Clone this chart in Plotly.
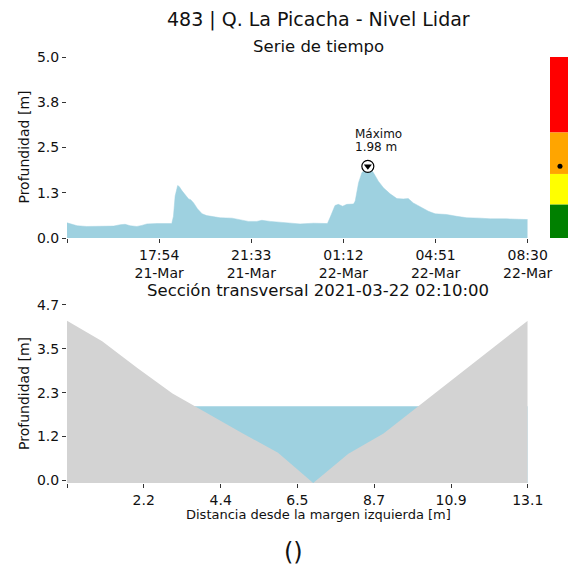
import plotly.graph_objects as go

# ---------------- data ----------------
times = [
    "2021-03-21 14:15", "2021-03-21 14:26", "2021-03-21 14:39", "2021-03-21 15:02",
    "2021-03-21 15:34", "2021-03-21 16:06", "2021-03-21 16:22", "2021-03-21 16:33",
    "2021-03-21 16:45", "2021-03-21 17:01", "2021-03-21 17:13", "2021-03-21 17:25",
    "2021-03-21 17:49", "2021-03-21 18:24", "2021-03-21 18:28", "2021-03-21 18:32",
    "2021-03-21 18:38", "2021-03-21 18:42", "2021-03-21 18:48", "2021-03-21 18:56",
    "2021-03-21 19:04", "2021-03-21 19:09", "2021-03-21 19:16", "2021-03-21 19:25",
    "2021-03-21 19:36", "2021-03-21 19:47", "2021-03-21 20:03", "2021-03-21 20:19",
    "2021-03-21 20:47", "2021-03-21 21:07", "2021-03-21 21:26", "2021-03-21 21:46",
    "2021-03-21 21:58", "2021-03-21 22:18", "2021-03-21 22:57", "2021-03-21 23:29",
    "2021-03-22 00:01", "2021-03-22 00:34", "2021-03-22 00:40", "2021-03-22 00:52",
    "2021-03-22 01:00", "2021-03-22 01:10", "2021-03-22 01:20", "2021-03-22 01:36",
    "2021-03-22 01:40", "2021-03-22 01:48", "2021-03-22 01:56", "2021-03-22 02:03",
    "2021-03-22 02:10", "2021-03-22 02:23", "2021-03-22 02:35", "2021-03-22 02:47",
    "2021-03-22 03:03", "2021-03-22 03:19", "2021-03-22 03:34", "2021-03-22 03:46",
    "2021-03-22 03:58", "2021-03-22 04:14", "2021-03-22 04:34", "2021-03-22 04:50",
    "2021-03-22 05:17", "2021-03-22 05:41", "2021-03-22 06:05", "2021-03-22 06:37",
    "2021-03-22 07:01", "2021-03-22 07:40", "2021-03-22 08:12", "2021-03-22 08:30",
]
depth = [
    0.42, 0.39, 0.34, 0.32,
    0.32, 0.33, 0.37, 0.38,
    0.34, 0.32, 0.35, 0.39,
    0.40, 0.40, 0.60, 1.16,
    1.45, 1.42, 1.31, 1.20,
    1.08, 1.06, 0.97, 0.81,
    0.67, 0.62, 0.58, 0.56,
    0.55, 0.51, 0.46, 0.46,
    0.49, 0.46, 0.42, 0.39,
    0.41, 0.40, 0.56, 0.90,
    0.93, 0.88, 0.93, 0.94,
    1.02, 1.53, 1.81, 1.87,
    1.98, 1.81, 1.57, 1.39,
    1.22, 1.09, 1.08, 1.09,
    0.97, 0.86, 0.74, 0.67,
    0.65, 0.60, 0.56, 0.55,
    0.53, 0.53, 0.52, 0.51,
]
max_time = "2021-03-22 02:10"
max_depth = 1.98
max_label = ["Máximo", "1.98 m"]

alert_bounds = [0.0, 0.93, 1.77, 2.92, 5.0]
alert_colors = ["#008000", "#FFFF00", "#FFA500", "#FF0000"]
current_level = 1.98

time_range = ["2021-03-21 14:15", "2021-03-22 08:30"]
time_tickvals = ["2021-03-21 14:15", "2021-03-21 17:54", "2021-03-21 21:33",
                 "2021-03-22 01:12", "2021-03-22 04:51", "2021-03-22 08:30"]
time_ticktext = ["", "17:54<br>21-Mar", "21:33<br>21-Mar", "01:12<br>22-Mar",
                 "04:51<br>22-Mar", "08:30<br>22-Mar"]
depth_tickvals = [0.0, 1.25, 2.5, 3.75, 5.0]
depth_ticktext = ["0.0", "1.3", "2.5", "3.8", "5.0"]

section_x = [0.0, 1.0, 2.0, 3.0, 5.0, 6.0, 7.0, 8.0, 9.0, 13.1]
section_bed = [4.26, 3.71, 3.00, 2.32, 1.25, 0.74, -0.07, 0.71, 1.25, 4.26]
section_water = 1.98
section_xtickvals = [0.0, 2.18, 4.37, 6.55, 8.73, 10.92, 13.1]
section_xticktext = ["", "2.2", "4.4", "6.5", "8.7", "10.9", "13.1"]
section_ytickvals = [0.0, 1.17, 2.34, 3.51, 4.68]
section_yticktext = ["0.0", "1.2", "2.3", "3.5", "4.7"]

title_text = "483 | Q. La Picacha - Nivel Lidar"
sub1_text = "Serie de tiempo"
sub2_text = "Sección transversal 2021-03-22 02:10:00"
xlabel2 = "Distancia desde la margen izquierda [m]"
ylabel = "Profundidad [m]"
footer = "()"

# ---------------- style ----------------
FONT = "DejaVu Sans"
WATER = "#9ED1E0"
GROUND = "#D3D3D3"
TXT = "#111111"

fig = go.Figure()

# time series
fig.add_trace(go.Scatter(x=times, y=depth, mode="lines", fill="tozeroy",
                         fillcolor=WATER, line=dict(color=WATER, width=0.5),
                         xaxis="x", yaxis="y", showlegend=False))
fig.add_trace(go.Scatter(x=[max_time], y=[max_depth], mode="markers",
                         marker=dict(symbol="circle", size=12, color="white",
                                     line=dict(color="black", width=1.2)),
                         xaxis="x", yaxis="y", showlegend=False))
fig.add_trace(go.Scatter(x=[max_time], y=[max_depth], mode="markers",
                         marker=dict(symbol="triangle-down", size=7, color="black"),
                         xaxis="x", yaxis="y", showlegend=False))

# alert bar
bases = alert_bounds[:-1]
heights = [alert_bounds[i + 1] - alert_bounds[i] for i in range(len(alert_colors))]
fig.add_trace(go.Bar(x=[0.5] * len(heights), y=heights, base=bases, width=1,
                     marker=dict(color=alert_colors, line=dict(width=0)),
                     xaxis="x3", yaxis="y3", showlegend=False))
fig.add_trace(go.Scatter(x=[0.5], y=[current_level], mode="markers",
                         marker=dict(color="black", size=5),
                         xaxis="x3", yaxis="y3", showlegend=False))

# cross section
floor = min(section_bed)
xs_ends = [section_x[0], section_x[-1]]
fig.add_trace(go.Scatter(x=xs_ends, y=[floor, floor], mode="lines",
                         line=dict(width=0), xaxis="x2", yaxis="y2", showlegend=False))
fig.add_trace(go.Scatter(x=xs_ends, y=[section_water, section_water], mode="lines",
                         fill="tonexty", fillcolor=WATER, line=dict(width=0),
                         xaxis="x2", yaxis="y2", showlegend=False))
fig.add_trace(go.Scatter(x=xs_ends, y=[floor, floor], mode="lines",
                         line=dict(width=0), xaxis="x2", yaxis="y2", showlegend=False))
fig.add_trace(go.Scatter(x=section_x, y=section_bed, mode="lines",
                         fill="tonexty", fillcolor=GROUND, line=dict(width=0),
                         xaxis="x2", yaxis="y2", showlegend=False))

axis_common = dict(showgrid=False, zeroline=False, showline=False, ticks="outside",
                   ticklen=4, tickwidth=1, tickcolor="#333333", automargin=False,
                   tickfont=dict(family=FONT, size=14, color=TXT))

main_dom = [0, 0.9196]
top_dom = [0.575, 1.0]
bot_dom = [0.0, 0.418]

fig.update_layout(
    width=568, height=571, autosize=False,
    margin=dict(l=67, r=0, t=57, b=88, autoexpand=False),
    paper_bgcolor="white", plot_bgcolor="white",
    barmode="overlay",
    font=dict(family=FONT, color=TXT),
    xaxis=dict(domain=main_dom, anchor="y", type="date", range=time_range,
               tickmode="array", tickvals=time_tickvals, ticktext=time_ticktext,
               **axis_common),
    yaxis=dict(domain=top_dom, anchor="x", range=[0, 5], tickmode="array",
               tickvals=depth_tickvals, ticktext=depth_ticktext, **axis_common),
    xaxis2=dict(domain=main_dom, anchor="y2", range=[0, 13.1], tickmode="array",
                tickvals=section_xtickvals, ticktext=section_xticktext, **axis_common),
    yaxis2=dict(domain=bot_dom, anchor="x2", range=[floor, 4.68], tickmode="array",
                tickvals=section_ytickvals, ticktext=section_yticktext, **axis_common),
    xaxis3=dict(domain=[0.964, 1.0], anchor="y3", range=[0, 0.9], visible=False,
                automargin=False),
    yaxis3=dict(domain=top_dom, anchor="x3", range=[0, 5], visible=False,
                automargin=False),
)

def ann(text, x, y, size, **kw):
    d = dict(text=text, x=x, y=y, xref="paper", yref="paper", showarrow=False,
             xanchor="center", yanchor="middle",
             font=dict(family=FONT, size=size, color=TXT))
    d.update(kw)
    fig.add_annotation(**d)

ann(title_text, 0.501, 1.089, 19)
ann(sub1_text, 0.501, 1.0258, 16.5)
ann(sub2_text, 0.501, 0.453, 16.5)
ann(xlabel2, 0.501, -0.0751, 13)
ann(footer, 0.453, -0.162, 24)
ann(ylabel, -0.0858, (top_dom[0] + top_dom[1]) / 2, 14, textangle=-90)
ann(ylabel, -0.0858, (bot_dom[0] + bot_dom[1]) / 2, 14, textangle=-90)

fig.add_annotation(text=max_label[0], x=max_time, y=max_depth, xref="x", yref="y",
                   showarrow=False, xanchor="left", yanchor="middle", xshift=-15,
                   yshift=32, font=dict(family=FONT, size=12, color=TXT))
fig.add_annotation(text=max_label[1], x=max_time, y=max_depth, xref="x", yref="y",
                   showarrow=False, xanchor="left", yanchor="middle", xshift=-15,
                   yshift=19, font=dict(family=FONT, size=12, color=TXT))

page_css = ("document.body.style.margin='0';"
            "document.body.style.overflow='hidden';"
            "document.documentElement.style.overflow='hidden';")
fig.write_html("out.html", post_script=page_css,
               config={"displayModeBar": False, "staticPlot": True})
